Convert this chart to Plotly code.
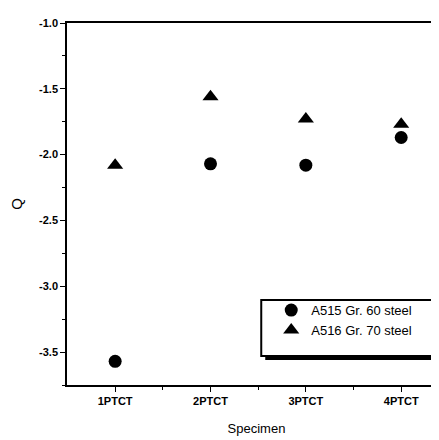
import plotly.graph_objects as go

specimens = ["1PTCT", "2PTCT", "3PTCT", "4PTCT"]
a515_q = [-3.57, -2.07, -2.08, -1.87]
a516_q = [-2.08, -1.56, -1.73, -1.77]
y_ticks = [-3.5, -3.0, -2.5, -2.0, -1.5, -1.0]

W, H = 439, 440
L, R, T, B = 58.5, 1, 14.5, 63
pw, ph = W - L - R, H - T - B

xpos = list(range(1, len(specimens) + 1))

def px2paper(x, y):
    return (x - L) / pw, (H - B - y) / ph

fig = go.Figure()
fig.add_trace(go.Scatter(x=xpos, y=a515_q, mode="markers", name="A515 Gr. 60 steel",
                         marker=dict(symbol="circle", size=13, color="black")))
fig.add_trace(go.Scatter(x=xpos, y=a516_q, mode="markers", name="A516 Gr. 70 steel",
                         marker=dict(symbol="triangle-up", size=14, color="black")))

# legend frame with drop shadow
sx0, sy0 = px2paper(257, 352)
sx1, sy1 = px2paper(435, 296)
bx0, by0 = px2paper(253, 348)
bx1, by1 = px2paper(431, 292)
fig.add_shape(type="rect", xref="paper", yref="paper", x0=sx0, y0=sy0, x1=sx1, y1=sy1,
              fillcolor="black", line=dict(width=0), layer="above")
fig.add_shape(type="rect", xref="paper", yref="paper", x0=bx0, y0=by0, x1=bx1, y1=by1,
              fillcolor="white", line=dict(color="black", width=2), layer="above")

lx, ly = px2paper(263, 287)

fam = "Liberation Sans Narrow, Liberation Sans, Arial, sans-serif"
tickfont = dict(family=fam, size=11, color="black", weight="bold")
fig.update_layout(
    width=W, height=H,
    margin=dict(l=L, r=R, t=T, b=B),
    paper_bgcolor="white", plot_bgcolor="white",
    showlegend=True,
    legend=dict(x=lx, y=ly, xanchor="left", yanchor="top", bgcolor="rgba(0,0,0,0)",
                borderwidth=0, font=dict(family="Liberation Sans, Arial, sans-serif", size=13, color="black")),
    xaxis=dict(range=[0.495, 4.47], tickmode="array", tickvals=xpos, ticktext=specimens,
               showline=True, linecolor="black", linewidth=1.5, mirror=True,
               ticks="outside", ticklen=5, tickwidth=1, tickcolor="black",
               minor=dict(tickmode="array", tickvals=[p + 0.5 for p in xpos[:-1]] + [xpos[-1] + 0.5],
                          ticks="outside", ticklen=3, tickcolor="black"),
               showgrid=False, zeroline=False, tickfont=tickfont,
               title=dict(text="Specimen", standoff=18,
                          font=dict(family="Liberation Sans, Arial, sans-serif", size=13, color="black"))),
    yaxis=dict(range=[-3.75, -1.0], tickmode="array", tickvals=y_ticks,
               ticktext=[f"{v:.1f}" for v in y_ticks],
               showline=True, linecolor="black", linewidth=1.5, mirror=False,
               ticks="outside", ticklen=5, tickwidth=1, tickcolor="black",
               minor=dict(dtick=0.25, ticks="outside", ticklen=3, tickcolor="black"),
               showgrid=False, zeroline=False, tickfont=tickfont,
               title=dict(text="Q", standoff=16,
                          font=dict(family="Liberation Sans, Arial, sans-serif", size=15, color="black"))),
)

fig.write_html("out.html")
